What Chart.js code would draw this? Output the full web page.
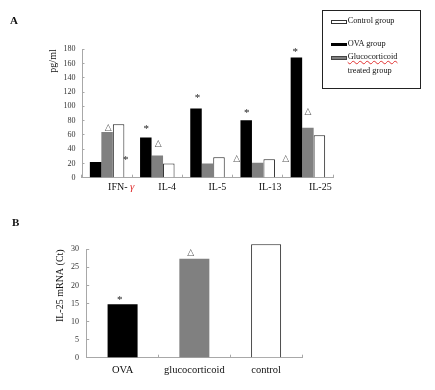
<!DOCTYPE html>
<html>
<head>
<meta charset="utf-8">
<script src="https://cdn.jsdelivr.net/npm/chart.js@4.4.0/dist/chart.umd.min.js"></script>
<style>
  body { margin: 0; background: #fff; }
  #page { position: relative; width: 435px; height: 390px; overflow: hidden; font-family: "Liberation Serif", serif; color: #111; }
  canvas { position: absolute; left: 0; }
  .panel { position: absolute; font-weight: bold; font-size: 11px; line-height: 12px; }
  #legend { position: absolute; left: 322px; top: 10px; width: 99px; height: 79px; border: 1px solid #222; box-sizing: border-box; font-size: 8.3px; }
  #legend .t { position: absolute; left: 24.7px; line-height: 10px; white-space: nowrap; }
  #legend .sw { position: absolute; left: 8px; width: 15.7px; box-sizing: border-box; }
  .wavy { text-decoration: underline wavy #e03030; text-decoration-thickness: 0.5px; }
</style>
</head>
<body>
<div id="page">
  <canvas id="chartA" width="435" height="200" style="top:0"></canvas>
  <canvas id="chartB" width="435" height="190" style="top:200px"></canvas>
  <div class="panel" style="left:10px; top:14px">A</div>
  <div class="panel" style="left:12px; top:216px">B</div>
  <div id="legend">
    <div class="sw" style="top:8.7px; height:4px; background:#fff; border:1px solid #333"></div>
    <div class="t" style="top:5px">Control group</div>
    <div class="sw" style="top:31.7px; height:3.5px; background:#000"></div>
    <div class="t" style="top:28.3px">OVA group</div>
    <div class="sw" style="top:45px; height:3.8px; background:#808080; border:1px solid #444"></div>
    <div class="t" style="top:41.3px"><span class="wavy">Glucocorticoid</span></div>
    <div class="t" style="top:54.7px">treated group</div>
  </div>
</div>
<script>
// panel A: cytokines (pg/ml)
const cytokines = ['IFN- γ', 'IL-4', 'IL-5', 'IL-13', 'IL-25'];
const ovaA = [22, 56.5, 97, 80.5, 168.5];
const glucoA = [64, 31, 20, 21, 70];
const controlA = [75, 20, 28.5, 26, 59.5];

// significance marks on panel A (x = category index, y = pg/ml)
const marksASym = ['△', '*', '*', '△', '*', '△', '*', '△', '*', '△'];
const marksAX = [0.02, 0.37, 0.78, 1.02, 1.8, 2.58, 2.78, 3.56, 3.75, 4.0];
const marksAY = [70, 27, 70.5, 48, 113.5, 27, 92.5, 27, 178.8, 92.5];

// panel B: IL-25 mRNA (Ct)
const groupsB = ['OVA', 'glucocorticoid', 'control'];
const ctB = [14.8, 27.4, 31.4];
const marksBSym = ['*', '△'];
const marksBX = [-0.04, -0.05 + 1];
const marksBY = [16.4, 29.2];

const SERIF = '"Liberation Serif", "Times New Roman", serif';
const AXIS_GRAY = '#a8a8a8';

function marksPlugin(id, syms, xs, ys) {
    return {
        id: id,
        afterDatasetsDraw(chart) {
            const { ctx } = chart;
            const x = chart.scales.x;
            const y = chart.scales.y;
            ctx.save();
            ctx.textAlign = 'center';
            ctx.textBaseline = 'middle';
            syms.forEach((s, i) => {
                const px = x.getPixelForValue(xs[i]);
                const py = y.getPixelForValue(ys[i]);
                if (s === '*') {
                    ctx.fillStyle = '#222';
                    ctx.font = '11px ' + SERIF;
                    ctx.fillText(s, px, py + 1.5);
                } else {
                    ctx.fillStyle = '#555';
                    ctx.font = '9px "DejaVu Sans"';
                    ctx.fillText(s, px, py);
                }
            });
            ctx.restore();
        },
    };
}

// category labels for panel A (gamma in red italic)
const catLabels = {
    id: 'catLabels',
    afterDraw(chart) {
        const { ctx } = chart;
        const x = chart.scales.x;
        ctx.save();
        ctx.textAlign = 'left';
        ctx.textBaseline = 'middle';
        cytokines.forEach((name, i) => {
            let px = x.getPixelForTick(i) + 1;
            const py = x.top + 9.5;
            const parts = name.split('γ');
            ctx.font = '10px ' + SERIF;
            ctx.fillStyle = '#111';
            ctx.fillText(parts[0], px, py);
            if (parts.length > 1) {
                px += ctx.measureText(parts[0]).width;
                ctx.font = 'italic 11px ' + SERIF;
                ctx.fillStyle = '#e03030';
                ctx.fillText('γ', px, py);
            }
        });
        ctx.restore();
    },
};

new Chart(document.getElementById('chartA'), {
    type: 'bar',
    data: {
        labels: cytokines,
        datasets: [
            { label: 'OVA group', data: ovaA, backgroundColor: '#000', borderWidth: 0 },
            { label: 'Glucocorticoid treated group', data: glucoA, backgroundColor: '#808080', borderWidth: 0 },
            { label: 'Control group', data: controlA, backgroundColor: '#fff', borderColor: '#222', borderWidth: 1 },
        ],
    },
    options: {
        responsive: false,
        animation: false,
        devicePixelRatio: 1,
        layout: { padding: { left: 47.5, top: 49.3, right: 102, bottom: 0 } },
        datasets: { bar: { categoryPercentage: 0.687, barPercentage: 1 } },
        plugins: { legend: { display: false }, tooltip: { enabled: false } },
        scales: {
            x: {
                grid: { drawOnChartArea: false, tickLength: -3, color: AXIS_GRAY },
                border: { color: AXIS_GRAY },
                ticks: { display: false },
                afterFit: (s) => { s.height = 22.3; },
            },
            y: {
                min: 0,
                max: 180,
                ticks: { stepSize: 20, padding: 9, color: '#333', font: { family: SERIF, size: 8 } },
                grid: { drawOnChartArea: false, tickLength: -2.5, color: AXIS_GRAY },
                border: { color: AXIS_GRAY },
                title: { display: true, text: 'pg/ml', align: 'end', padding: 0, color: '#111', font: { family: SERIF, size: 10 } },
                afterFit: (s) => { s.width = 34.5; },
            },
        },
    },
    plugins: [catLabels, marksPlugin('marksA', marksASym, marksAX, marksAY)],
});

new Chart(document.getElementById('chartB'), {
    type: 'bar',
    data: {
        labels: groupsB,
        datasets: [
            {
                label: 'IL-25 mRNA (Ct)',
                data: ctB,
                backgroundColor: ['#000', '#808080', '#fff'],
                borderColor: ['#000', '#808080', '#222'],
                borderWidth: [0, 0, 1],
                clip: false,
            },
        ],
    },
    options: {
        responsive: false,
        animation: false,
        devicePixelRatio: 1,
        layout: { padding: { left: 54.3, top: 49.3, right: 133, bottom: 0 } },
        datasets: { bar: { categoryPercentage: 1, barPercentage: 0.418 } },
        plugins: { legend: { display: false }, tooltip: { enabled: false } },
        scales: {
            x: {
                grid: { drawOnChartArea: false, tickLength: -3, color: AXIS_GRAY },
                border: { color: AXIS_GRAY },
                ticks: { padding: 9, color: '#111', font: { family: SERIF, size: 10.5 } },
                afterFit: (s) => { s.height = 32.3; },
            },
            y: {
                min: 0,
                max: 30,
                ticks: { stepSize: 5, padding: 10.2, color: '#333', font: { family: SERIF, size: 8 } },
                grid: { drawOnChartArea: false, tickLength: -2.5, color: AXIS_GRAY },
                border: { color: AXIS_GRAY },
                title: { display: true, text: 'IL-25 mRNA (Ct)', align: 'end', padding: 0, color: '#111', font: { family: SERIF, size: 10 } },
                afterFit: (s) => { s.width = 32.4; },
            },
        },
    },
    plugins: [marksPlugin('marksB', marksBSym, marksBX, marksBY)],
});
</script>
</body>
</html>
